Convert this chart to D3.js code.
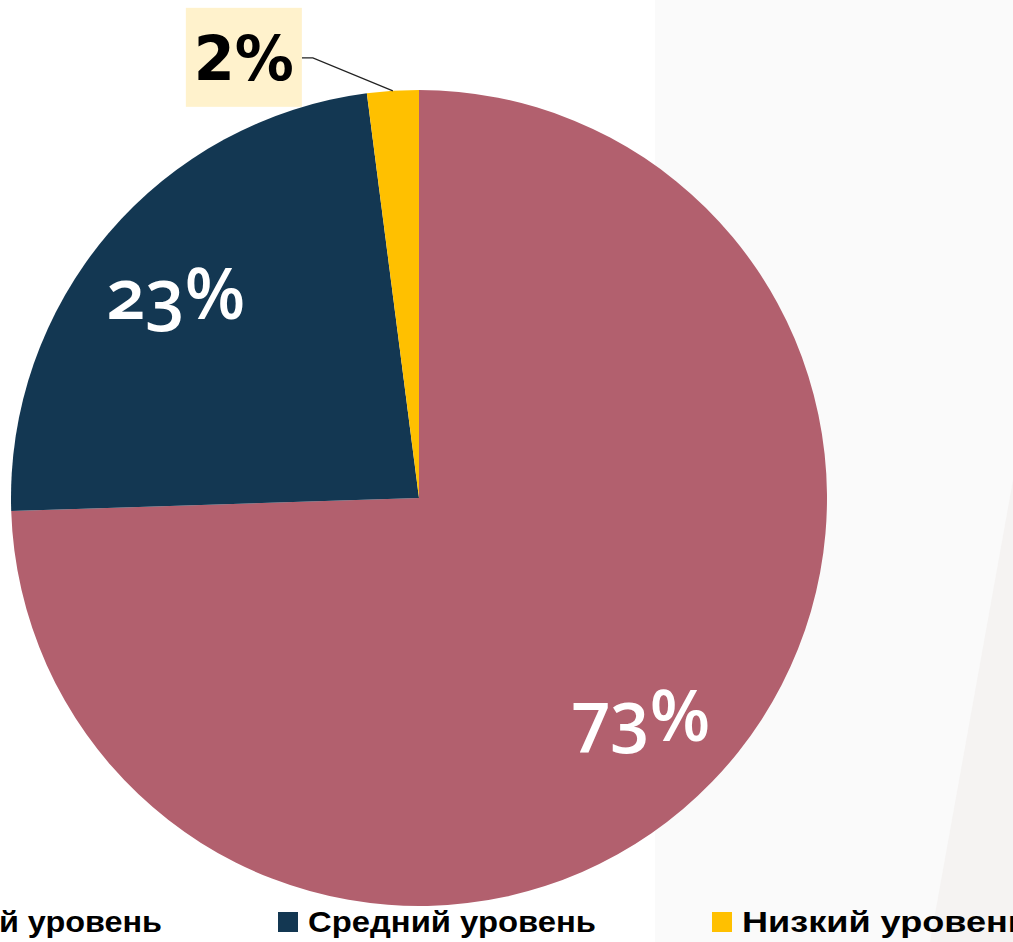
<!DOCTYPE html>
<html>
<head>
<meta charset="utf-8">
<script src="https://cdn.jsdelivr.net/npm/d3@7"></script>
<style>
  body { margin: 0; background: #fff; }
  svg { display: block; }
</style>
</head>
<body>
<svg id="chart" width="1013" height="942"></svg>
<script>
// chart data
var categories = ["Высокий уровень", "Средний уровень", "Низкий уровень"];
var values = [73, 23, 2];
var labels = ["73%", "23%", "2%"];
var colors = ["#b2606e", "#133752", "#ffc000"];

var svg = d3.select("#chart");
var W = 1013, H = 942;

// faint photo-like background on the right
svg.append("rect").attr("x", 655).attr("y", 0).attr("width", W - 655).attr("height", H)
    .attr("fill", "#fafafa");
svg.append("path")
    .attr("d", "M1013,480 L1013,942 L930,942 Z")
    .attr("fill", "#f5f3f2");

var cx = 419, cy = 498, R = 408;
var g = svg.append("g").attr("transform", "translate(" + cx + "," + cy + ")");

var pie = d3.pie().sort(null).value(d => d)(values);
var arc = d3.arc().innerRadius(0).outerRadius(R);
var labelArc = d3.arc().innerRadius(R * 0.77).outerRadius(R * 0.77);

g.selectAll("path.slice").data(pie).enter().append("path")
    .attr("class", "slice")
    .attr("d", arc)
    .attr("fill", (d, i) => colors[i]);

// inside labels (first two slices)
g.selectAll("text.inlbl").data(pie.slice(0, 2)).enter().append("text")
    .attr("class", "inlbl")
    .attr("x", d => labelArc.centroid(d)[0] - 4)
    .attr("y", d => labelArc.centroid(d)[1])
    .attr("dy", "0.35em")
    .attr("text-anchor", "middle")
    .attr("font-family", "Open Sans, sans-serif")
    .attr("font-weight", 600)
    .attr("font-size", 70)
    .style("font-feature-settings", "'onum'")
    .attr("fill", "#fff")
    .text((d, i) => labels[i]);

// outside label for the small slice with leader line
var small = pie[2];
var edgeArc = d3.arc().innerRadius(R).outerRadius(R);
var p = edgeArc.centroid(small);
var elbow = [p[0] - 80, p[1] - 33];
g.append("polyline")
    .attr("points", [p, elbow, [elbow[0] - 11, elbow[1]]].map(q => q.join(",")).join(" "))
    .attr("fill", "none")
    .attr("stroke", "#222")
    .attr("stroke-width", 1.2);
var bx = elbow[0] - 11 - 116, by = elbow[1] - 50;
g.append("rect").attr("x", bx).attr("y", by).attr("width", 116).attr("height", 99)
    .attr("fill", "#fff2cc");
g.append("text")
    .attr("x", bx + 58).attr("y", elbow[1])
    .attr("dy", "0.36em")
    .attr("text-anchor", "middle")
    .attr("font-family", "DejaVu Sans, sans-serif")
    .attr("font-weight", "bold")
    .attr("font-size", 62)
    .attr("textLength", 100)
    .attr("lengthAdjust", "spacingAndGlyphs")
    .attr("fill", "#000")
    .text(labels[2]);

// legend
var legX = [-156, 278, 712];
var legend = svg.append("g").attr("class", "legend");
var items = legend.selectAll("g").data(categories).enter().append("g")
    .attr("transform", (d, i) => "translate(" + legX[i] + ",912)");
items.append("rect").attr("width", 20).attr("height", 20)
    .attr("fill", (d, i) => colors[i]);
items.append("text")
    .attr("x", 30).attr("y", 20)
    .attr("font-family", "Liberation Sans Narrow, Liberation Sans, sans-serif")
    .attr("font-weight", "bold")
    .attr("font-size", 30)
    .attr("textLength", 288)
    .attr("lengthAdjust", "spacingAndGlyphs")
    .attr("fill", "#000")
    .text(d => d);
</script>
</body>
</html>
